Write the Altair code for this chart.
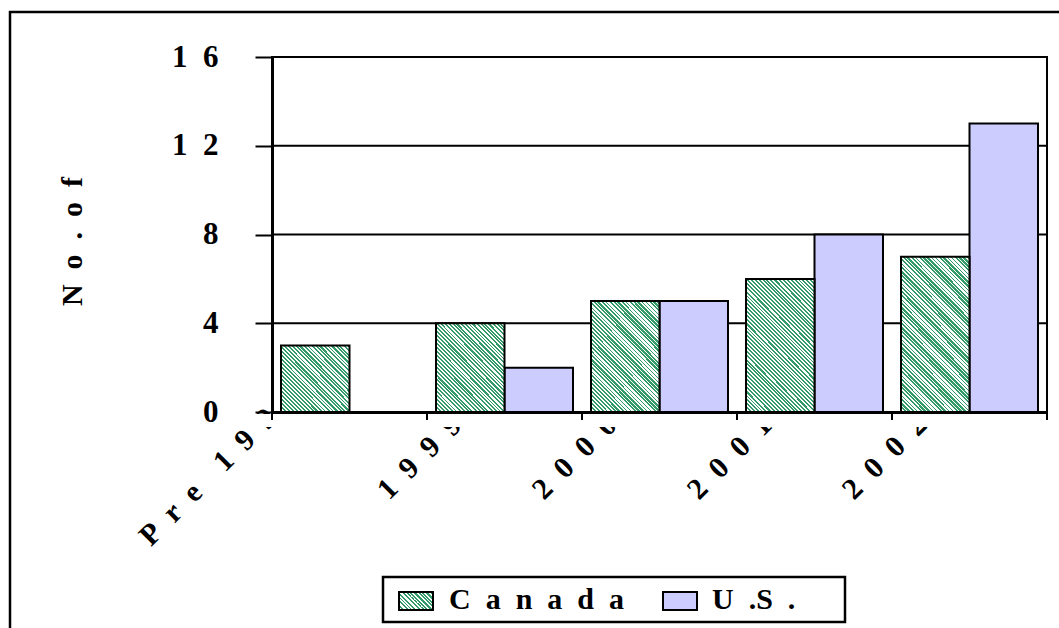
import json
import altair as alt
import pandas as pd

# ---- data -------------------------------------------------------------
categories = ["Pre 1999", "1999", "2000", "2001", "2002"]
canada = [3, 4, 5, 6, 7]
us = [0, 2, 5, 8, 13]
series = ["Canada", "U.S."]
y_ticks = [0, 4, 8, 12, 16]
y_title = "No. of"

# ---- layout / style ----------------------------------------------------
LEFT, TOP, W, H = 272, 57, 775, 355
PAD_R = 1059 - LEFT - W
PAD_B = 628 - TOP - H
Y_MAX = 16
BAR_W = 68.5
STEP = W / len(categories)
GREEN = "#349a68"
LAVENDER = "#CCCCFF"
FONT = "Liberation Serif"
NB = "\u00a0"


def spaced(text, gap=2, word_gap=4):
    """Letter-spaced text built with non-breaking spaces."""
    return (NB * word_gap).join((NB * gap).join(w) for w in text.split(" "))


def hatch(w, h, period=4.0, color=GREEN, duty=0.5):
    """Diagonal '\\' stripes as a hard-stop linear gradient for a w x h box."""
    span = w + h
    k = span / (w * w + h * h)
    dt = period / span
    stops = []
    t = 0.0
    while t < 1.0:
        b = min(t + dt * duty, 1.0)
        c = min(t + dt, 1.0)
        stops += [(t, color), (b, color), (b, "white"), (c, "white")]
        t += dt
    return {
        "gradient": "linear",
        "x1": 0, "y1": 1, "x2": k * w, "y2": 1 - k * h,
        "stops": [{"offset": round(o, 5), "color": col} for o, col in stops],
    }


def mapping_expr(pairs, key):
    return " : ".join(
        f"{key} == {json.dumps(k)} ? {json.dumps(v)}" for k, v in pairs
    ) + " : datum.label"


rows = []
for i, c in enumerate(categories):
    rows.append({"category": c, "series": "Canada", "value": canada[i]})
    rows.append({"category": c, "series": "U.S.", "value": us[i]})
df = pd.DataFrame(rows)

# ---- shared encodings --------------------------------------------------
x_label_expr = mapping_expr([(c, spaced(c)) for c in categories], "datum.value")
y_label_expr = mapping_expr([(t, (NB * 2).join(str(t))) for t in y_ticks], "datum.value")

# labels sit just right of each category's start, the first one a little higher
first = json.dumps(categories[0])
x_scale = alt.Scale(domain=categories, paddingInner=0, paddingOuter=0)
x_axis = alt.Axis(
    title=None, ticks=False, tickSize=0, grid=False,
    domainColor="black", domainWidth=3,
    labelExpr=x_label_expr, labelAngle=315, labelAlign="right", labelBaseline="middle",
    labelFont=FONT, labelFontWeight="bold", labelFontSize=30, labelColor="black",
    labelPadding={"condition": {"test": f"datum.value == {first}", "value": -20}, "value": 8},
    labelOffset={"condition": {"test": f"datum.value == {first}", "value": 21 - STEP / 2},
                 "value": 30 - STEP / 2},
    labelLimit=0, labelOverlap=False, labelBound=False, labelFlush=False,
)

y_scale = alt.Scale(domain=[0, Y_MAX], nice=False, zero=True)
y_axis = alt.Axis(
    values=y_ticks, grid=False, zindex=1,
    domainColor="black", domainWidth=3,
    tickColor="black", tickWidth=2, tickSize=17,
    labelFont=FONT, labelFontWeight="bold", labelFontSize=31, labelColor="black",
    labelPadding=37, labelExpr=y_label_expr,
    title=spaced(y_title.replace(" ", ""), gap=2), titleFont=FONT, titleFontWeight="bold",
    titleFontSize=30, titleColor="black", titleAngle=270, titleAlign="center",
    titleBaseline="middle", titleX=72 - LEFT, titleY=241 - TOP,
)


def xe(**kw):
    return alt.X("category:N", sort=categories, scale=x_scale, axis=x_axis, **kw)


def ye(field="value"):
    return alt.Y(f"{field}:Q", scale=y_scale, axis=y_axis)


x_off = alt.XOffset("series:N", scale=alt.Scale(domain=series, paddingInner=0, paddingOuter=0.1314))
one = alt.Data(values=[{}])

# plot background (keeps clipped category labels out of the plot area)
mask_plot = alt.Chart(one).mark_rect(fill="white").encode(
    x=alt.value(1.5), x2=alt.value(W - 1.5), y=alt.value(1.5), y2=alt.value(H - 1.5)
)

# horizontal gridlines
grid = alt.Chart(pd.DataFrame({"tick": y_ticks})).mark_rule(color="black", strokeWidth=2).encode(
    y=ye("tick"), x=alt.value(0), x2=alt.value(W)
)

# U.S. bars
us_bars = alt.Chart(df).transform_filter("datum.series == 'U.S.'").mark_bar(
    fill=LAVENDER, stroke="black", strokeWidth=2
).encode(x=xe(), xOffset=x_off, y=ye())

# Canada bars, each with its own stripe gradient sized to the bar
px_per_unit = H / Y_MAX
canada_layers = []
for c, v in zip(categories, canada):
    canada_layers.append(
        alt.Chart(df)
        .transform_filter(f"datum.series == 'Canada' && datum.category == {json.dumps(c)}")
        .mark_bar(fill=hatch(BAR_W, v * px_per_unit), stroke="black", strokeWidth=2)
        .encode(x=xe(), xOffset=x_off, y=ye())
    )

# strip under the axis that trims the rotated category labels
mask_below = alt.Chart(one).mark_rect(fill="white").encode(
    x=alt.value(-45), x2=alt.value(W + 5), y=alt.value(H + 2), y2=alt.value(H + 15)
)

# category boundary ticks
cat_ticks = alt.Chart(pd.DataFrame({"category": categories})).mark_rule(
    color="black", strokeWidth=2
).encode(x=xe(bandPosition=0), y=alt.value(H), y2=alt.value(H + 8))
end_tick = alt.Chart(one).mark_rule(color="black", strokeWidth=2).encode(
    x=alt.value(W), y=alt.value(H), y2=alt.value(H + 8)
)

# legend
leg_box = alt.Chart(one).mark_rect(fill="white", stroke="black", strokeWidth=2.5).encode(
    x=alt.value(111), x2=alt.value(573), y=alt.value(520), y2=alt.value(565)
)
leg_sw_ca = alt.Chart(one).mark_rect(fill=hatch(34, 18), stroke="black", strokeWidth=2).encode(
    x=alt.value(127), x2=alt.value(161), y=alt.value(535), y2=alt.value(553)
)
leg_sw_us = alt.Chart(one).mark_rect(fill=LAVENDER, stroke="black", strokeWidth=2).encode(
    x=alt.value(391), x2=alt.value(425), y=alt.value(535), y2=alt.value(553)
)
leg_txt_ca = alt.Chart(one).mark_text(
    font=FONT, fontWeight="bold", fontSize=30, color="black", align="left", baseline="middle"
).encode(x=alt.value(177), y=alt.value(543), text=alt.value(spaced(series[0], gap=2)))
leg_txt_us = alt.Chart(one).mark_text(
    font=FONT, fontWeight="bold", fontSize=30, color="black", align="left", baseline="middle"
).encode(x=alt.value(440), y=alt.value(543), text=alt.value("U" + NB * 2 + ".S" + NB * 2 + "."))

# outer frame
frame = alt.Chart(one).mark_rect(fillOpacity=0, stroke="black", strokeWidth=2.5).encode(
    x=alt.value(10 - LEFT), x2=alt.value(W + 60), y=alt.value(12 - TOP), y2=alt.value(H + 260)
)

chart = alt.layer(
    mask_plot, grid, us_bars, *canada_layers, mask_below, cat_ticks, end_tick,
    leg_box, leg_sw_ca, leg_sw_us, leg_txt_ca, leg_txt_us, frame,
).properties(
    width=W, height=H,
    autosize=alt.AutoSizeParams(type="none"),
    padding={"left": LEFT, "top": TOP, "right": PAD_R, "bottom": PAD_B},
).configure(background="white").configure_view(stroke="black", strokeWidth=2, fill="white")

chart.save("out.html", embed_options={"renderer": "svg", "actions": False})
